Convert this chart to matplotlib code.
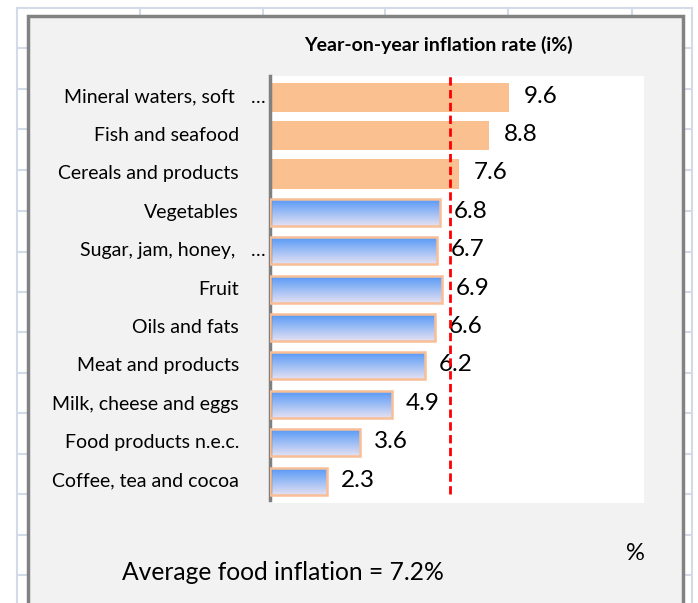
import numpy as np
import matplotlib
matplotlib.use("Agg")
import matplotlib.pyplot as plt
from matplotlib.patches import Rectangle

plt.rcParams["font.family"] = ["Lato", "DejaVu Sans"]

# ── Data ──
categories = [
    "Mineral waters, soft …",
    "Fish and seafood",
    "Cereals and products",
    "Vegetables",
    "Sugar, jam, honey, …",
    "Fruit",
    "Oils and fats",
    "Meat and products",
    "Milk, cheese and eggs",
    "Food products n.e.c.",
    "Coffee, tea and cocoa",
]
values = [9.6, 8.8, 7.6, 6.8, 6.7, 6.9, 6.6, 6.2, 4.9, 3.6, 2.3]
above_avg = [True, True, True, False, False, False, False, False, False, False, False]
avg_inflation = 7.2
title = "Year-on-year inflation rate (i%)"
footer = f"Average food inflation = {avg_inflation}%"

W, H = 698, 603
fig = plt.figure(figsize=(W / 100, H / 100), dpi=100)
fig.patch.set_facecolor("white")

# ── spreadsheet background (pixel coords) ──
bg = fig.add_axes([0, 0, 1, 1], zorder=0)
bg.set_xlim(0, W)
bg.set_ylim(H, 0)
bg.axis("off")
grid_col = "#d3dae8"
for gx in [17, 140, 263, 385, 508, 632, 692]:
    bg.plot([gx, gx], [8, H], color=grid_col, lw=1.5)
for gy in [8, 48, 89, 129, 170, 211, 252, 292, 332, 373, 413, 454, 494, 535, 575]:
    bg.plot([17, 692], [gy, gy], color=grid_col, lw=1.5)
bg.add_patch(Rectangle((28, 16), 655, H, facecolor="#f2f2f2",
                       edgecolor="#828282", lw=2.5, zorder=5))

# ── plot area ──
left, right, top, bottom = 270, 644, 76, 503
ax = fig.add_axes([left / W, 1 - bottom / H, (right - left) / W, (bottom - top) / H], zorder=2)
ax.set_facecolor("white")

orange = "#fac090"
lab_fs = 14

for i, (v, hot) in enumerate(zip(values, above_avg)):
    if hot:
        ax.barh(i, v, height=0.76, color=orange, linewidth=0, zorder=2)
    else:
        bar = ax.barh(i, v, height=0.70, facecolor="none", edgecolor="#f8bf96",
                      linewidth=1.8, zorder=3)[0]
        x0, y0 = bar.get_xy()
        grad = np.linspace(0, 1, 50)[:, None, None]
        c_top = np.array([0.34, 0.60, 0.97])
        c_bot = np.array([0.89, 0.88, 0.95])
        img = c_top * (1 - grad) + c_bot * grad
        ax.imshow(img, extent=[x0, x0 + bar.get_width(), y0, y0 + bar.get_height()],
                  origin="lower", aspect="auto", zorder=2, interpolation="bilinear")
    ax.annotate(f"{v}", xy=(v, i), xytext=(14, 1), textcoords="offset pixels",
                ha="left", va="center", fontsize=17.5, color="black", zorder=4)

# category labels (drawn to the left of the axis)
for i, cat in enumerate(categories):
    if cat.endswith("…"):
        main = cat[:-1].rstrip()
        ax.annotate(main, xy=(0, i), xycoords=("axes fraction", "data"),
                    xytext=(-35, 0), textcoords="offset pixels",
                    ha="right", va="center", fontsize=lab_fs, annotation_clip=False)
        ax.annotate("…", xy=(0, i), xycoords=("axes fraction", "data"),
                    xytext=(-12, 0), textcoords="offset pixels",
                    ha="center", va="center", fontsize=lab_fs, annotation_clip=False)
    else:
        ax.annotate(cat, xy=(0, i), xycoords=("axes fraction", "data"),
                    xytext=(-31, 0), textcoords="offset pixels",
                    ha="right", va="center", fontsize=lab_fs, annotation_clip=False)

# average line
ax.axvline(avg_inflation, ymin=0.02, ymax=1, color="red", lw=2.0,
           linestyle=(0, (3, 1.6)), zorder=6)

ax.set_xlim(0, 15)
ax.set_ylim(len(categories) - 1 + 0.57, -0.55)
ax.set_xticks([])
ax.set_yticks([])
for s in ["top", "right", "bottom"]:
    ax.spines[s].set_visible(False)
ax.spines["left"].set_color("#808080")
ax.spines["left"].set_linewidth(2.5)
ax.spines["left"].set_bounds(len(categories) - 1 + 0.5, -0.55)

fig.text(438 / W, 1 - 45 / H, title, ha="center", va="center",
         fontsize=14, fontweight="bold", zorder=10)
fig.text(122 / W, 1 - 572 / H, footer, ha="left", va="center",
         fontsize=17.7, zorder=10)
fig.text(635 / W, 1 - 554 / H, "%", ha="center", va="center",
         fontsize=17, zorder=10)

fig.savefig("out.png", dpi=100)
